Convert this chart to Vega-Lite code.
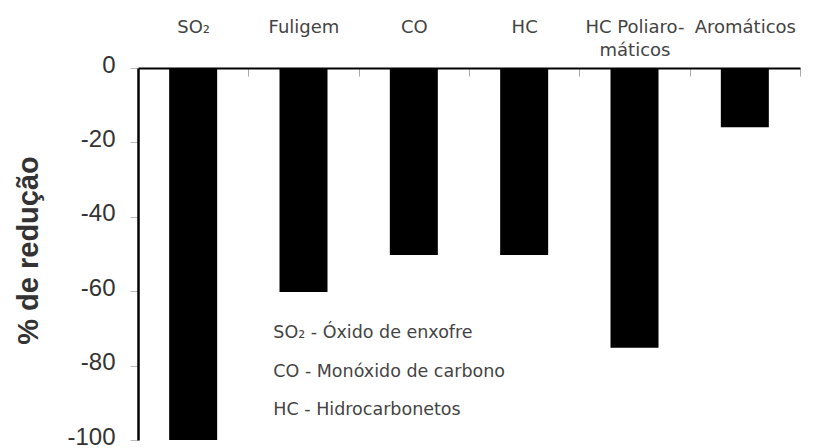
{
  "$schema": "https://vega.github.io/schema/vega-lite/v6.json",
  "autosize": "none",
  "width": 662,
  "height": 372,
  "padding": {"left": 138, "top": 68, "right": 35, "bottom": 8},
  "background": "white",
  "config": {"view": {"stroke": null}},
  "datasets": {
    "bars": [
      {"categoria": "SO₂", "reducao": -100},
      {"categoria": "Fuligem", "reducao": -60.2},
      {"categoria": "CO", "reducao": -50.3},
      {"categoria": "HC", "reducao": -50.3},
      {"categoria": "HC Poliaro-|máticos", "reducao": -75.2},
      {"categoria": "Aromáticos", "reducao": -15.9}
    ],
    "notas": [
      {"texto": "SO₂ - Óxido de enxofre", "categoria": "Fuligem", "pos": -72.6},
      {"texto": "CO - Monóxido de carbono", "categoria": "Fuligem", "pos": -83.1},
      {"texto": "HC - Hidrocarbonetos", "categoria": "Fuligem", "pos": -93.3}
    ]
  },
  "layer": [
    {
      "data": {"name": "bars"},
      "mark": {"type": "bar", "color": "black", "width": 48},
      "encoding": {
        "x": {
          "field": "categoria",
          "type": "nominal",
          "sort": null,
          "scale": {"paddingInner": 0, "paddingOuter": 0},
          "axis": {
            "orient": "top",
            "title": null,
            "labelAngle": 0,
            "labelExpr": "split(datum.label, '|')",
            "labelFont": "DejaVu Sans",
            "labelFontSize": 18,
            "labelColor": "#444",
            "labelBaseline": "top",
            "labelLineHeight": 23,
            "labelPadding": 58,
            "tickSize": -8,
            "tickColor": "#aaa",
            "tickWidth": 1,
            "tickBand": "extent",
            "domainColor": "black",
            "domainWidth": 2,
            "grid": false
          }
        },
        "y": {
          "field": "reducao",
          "type": "quantitative",
          "scale": {"domain": [-100, 0], "nice": false},
          "axis": {
            "values": [0, -20, -40, -60, -80, -100],
            "labelExpr": "'' + datum.value",
            "title": "% de redução",
            "titleFont": "Liberation Sans",
            "titleFontSize": 29,
            "titleFontWeight": "bold",
            "titleColor": "#333",
            "titleX": -110,
            "titleY": 182,
            "titleAlign": "center",
            "titleBaseline": "middle",
            "titleAngle": -90,
            "labelFont": "Liberation Sans",
            "labelFontSize": 24,
            "labelColor": "#333",
            "labelPadding": 15,
            "labelOffset": -3,
            "tickSize": 8,
            "tickColor": "#bbb",
            "tickWidth": 1,
            "domainColor": "black",
            "domainWidth": 2.5,
            "grid": false
          }
        }
      }
    },
    {
      "data": {"name": "notas"},
      "mark": {"type": "text", "align": "left", "baseline": "alphabetic", "dx": 25, "font": "DejaVu Sans", "fontSize": 17.5, "color": "#444"},
      "encoding": {
        "x": {"field": "categoria", "type": "nominal", "sort": null, "bandPosition": 0},
        "y": {"field": "pos", "type": "quantitative"},
        "text": {"field": "texto"}
      }
    }
  ]
}
